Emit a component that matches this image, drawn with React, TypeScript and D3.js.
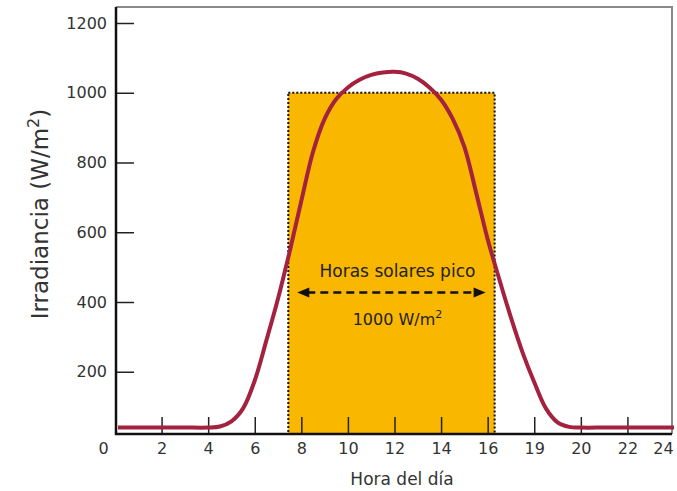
import React, { useRef, useEffect } from 'react';
import * as d3 from 'd3';

// curve: hour of day vs irradiance (W/m2)
const hours = [0, 1, 2, 3, 4, 4.5, 5, 5.5, 6, 6.5, 7, 7.5, 8, 8.5, 9, 9.5, 10, 10.5, 11, 11.5, 12, 12.5, 13, 13.5, 14, 14.5, 15, 15.5, 16, 16.5, 17, 17.5, 18, 18.5, 19, 19.5, 20, 21, 22, 23, 24];
const irradiance = [40, 40, 40, 40, 40, 43, 58, 95, 175, 290, 410, 545, 690, 830, 925, 982, 1015, 1037, 1051, 1058, 1060, 1055, 1040, 1015, 980, 925, 845, 715, 580, 465, 355, 255, 170, 95, 55, 42, 40, 40, 40, 40, 40];

// peak sun hours block
const peakStart = 7.44;
const peakEnd = 16.3;
const peakLevel = 1000;

const xTicks = [0, 2, 4, 6, 8, 10, 12, 14, 16, 18, 20, 22, 24];
const xTickLabels = ['0', '2', '4', '6', '8', '10', '12', '14', '16', '19', '20', '22', '24'];
const yTicks = [200, 400, 600, 800, 1000, 1200];

const FONT = 'DejaVu Sans, Verdana, sans-serif';

export default function App() {
  const ref = useRef<SVGSVGElement>(null);

  useEffect(() => {
    if (!ref.current) return;
    draw(ref.current);
  }, []);

  return (
    <svg
      ref={ref}
      width={677}
      height={491}
      style={{ position: 'absolute', left: 0, top: 0, background: '#fff' }}
    />
  );
}

function draw(el: SVGSVGElement) {
  const svg = d3.select(el);
  svg.selectAll('*').remove();

  const x = d3.scaleLinear().domain([0, 24]).range([115, 674]);
  const y = d3.scaleLinear().domain([0, 1200]).range([441.5, 23]);

  const left = 116;
  const right = 672;
  const top = 7;
  const bottom = 434;

  // frame: grey top / right
  svg.append('path')
    .attr('d', `M${left},${top}H${right}V${bottom}`)
    .attr('fill', 'none')
    .attr('stroke', '#8a8a8a')
    .attr('stroke-width', 2);

  // peak hours rectangle
  svg.append('rect')
    .attr('x', x(peakStart))
    .attr('y', y(peakLevel))
    .attr('width', x(peakEnd) - x(peakStart))
    .attr('height', bottom - y(peakLevel))
    .attr('fill', '#f9b700')
    .attr('stroke', '#111')
    .attr('stroke-width', 2)
    .attr('stroke-dasharray', '2,2');

  // x axis ticks (inside)
  const xAxis = d3.axisBottom(x)
    .tickValues(xTicks)
    .tickSizeInner(-17)
    .tickSizeOuter(0)
    .tickPadding(9)
    .tickFormat((_d, i) => xTickLabels[i]);
  const gx = svg.append('g').attr('transform', `translate(0,${bottom})`).call(xAxis);
  gx.select('.domain').remove();
  gx.selectAll('.tick line').attr('stroke', '#222').attr('stroke-width', 1.5);
  gx.selectAll('.tick text')
    .attr('font-family', FONT)
    .attr('font-size', 16)
    .attr('fill', '#333')
    .attr('dx', (_d, i) => (i === 0 ? -12 : i === xTicks.length - 1 ? -11 : 0));
  gx.selectAll('.tick').filter((d) => d === 0 || d === 24).select('line').remove();

  // y axis ticks (inside)
  const yAxis = d3.axisLeft(y)
    .tickValues(yTicks)
    .tickSizeInner(-18)
    .tickSizeOuter(0)
    .tickPadding(9)
    .tickFormat(d3.format('d'));
  const gy = svg.append('g').attr('transform', `translate(${left},0)`).call(yAxis);
  gy.select('.domain').remove();
  gy.selectAll('.tick line').attr('stroke', '#222').attr('stroke-width', 1.5);
  gy.selectAll('.tick text')
    .attr('font-family', FONT)
    .attr('font-size', 16)
    .attr('fill', '#333');

  // irradiance curve
  const pts: [number, number][] = hours.map((h, i) => [h, irradiance[i]]);
  const line = d3.line<[number, number]>()
    .x((d) => Math.max(x(d[0]), left + 2))
    .y((d) => y(d[1]))
    .curve(d3.curveCatmullRom.alpha(0.5));
  svg.append('path')
    .datum(pts)
    .attr('d', line)
    .attr('fill', 'none')
    .attr('stroke', '#a3223f')
    .attr('stroke-width', 4);

  // black axes
  svg.append('path')
    .attr('d', `M${left},${top}V${bottom}H${right}`)
    .attr('fill', 'none')
    .attr('stroke', '#111')
    .attr('stroke-width', 2.5);

  // arrow for peak sun hours
  const ay = y(427);
  const ax0 = x(peakStart) + 9;
  const ax1 = x(peakEnd) - 9;
  svg.append('line')
    .attr('x1', ax0 + 10).attr('x2', ax1 - 10)
    .attr('y1', ay).attr('y2', ay)
    .attr('stroke', '#111')
    .attr('stroke-width', 2.5)
    .attr('stroke-dasharray', '8,5');
  svg.append('path')
    .attr('d', `M${ax0},${ay}L${ax0 + 12},${ay - 5}L${ax0 + 12},${ay + 5}Z`)
    .attr('fill', '#111');
  svg.append('path')
    .attr('d', `M${ax1},${ay}L${ax1 - 12},${ay - 5}L${ax1 - 12},${ay + 5}Z`)
    .attr('fill', '#111');

  const cx = (x(peakStart) + x(peakEnd)) / 2 + 6;
  svg.append('text')
    .attr('x', cx).attr('y', ay - 16)
    .attr('text-anchor', 'middle')
    .attr('font-family', FONT)
    .attr('font-size', 17)
    .attr('fill', '#222')
    .text('Horas solares pico');
  const t2 = svg.append('text')
    .attr('x', cx).attr('y', ay + 32)
    .attr('text-anchor', 'middle')
    .attr('font-family', FONT)
    .attr('font-size', 16)
    .attr('fill', '#222');
  t2.append('tspan').text('1000 W/m');
  t2.append('tspan').attr('dy', -7).attr('font-size', 11).text('2');

  // axis titles
  svg.append('text')
    .attr('x', (left + right) / 2 + 8)
    .attr('y', 485)
    .attr('text-anchor', 'middle')
    .attr('font-family', FONT)
    .attr('font-size', 17)
    .attr('fill', '#333')
    .text('Hora del día');

  const yt = svg.append('text')
    .attr('transform', 'translate(48,214) rotate(-90)')
    .attr('text-anchor', 'middle')
    .attr('font-family', FONT)
    .attr('font-size', 23)
    .attr('fill', '#333');
  yt.append('tspan').text('Irradiancia (W/m');
  yt.append('tspan').attr('dy', -9).attr('font-size', 16).text('2');
  yt.append('tspan').attr('dy', 9).text(')');
}
